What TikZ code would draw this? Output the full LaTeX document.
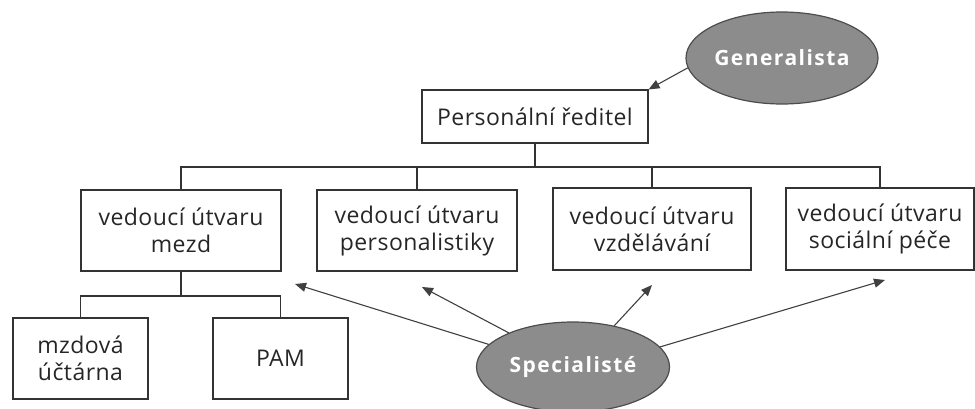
\documentclass[tikz,border=0pt]{standalone}
\usepackage{fontspec}
\setmainfont{Open Sans}
\usetikzlibrary{shapes.geometric,arrows.meta}
\begin{document}
\begin{tikzpicture}[x=1pt,y=-1pt,
  box/.style={draw=black!80,line width=1.1pt,rectangle,inner sep=0pt,align=center,
    font=\fontsize{23}{27}\selectfont\addfontfeatures{LetterSpace=2},text=black!85},
  blob/.style={draw=black!70,line width=1.2pt,ellipse,fill=black!45,inner sep=0pt,
    text=white,font=\bfseries\fontsize{21}{25}\selectfont\addfontfeatures{LetterSpace=7}},
  conn/.style={draw=black!80,line width=1.1pt},
  arr/.style={draw=black!75,line width=1.1pt,-{Triangle[length=11pt,width=9pt]}}]
\useasboundingbox (0,0) rectangle (975,409);
\node[blob,minimum width=192pt,minimum height=92pt] (G) at (782,58) {Generalista};
\node[box,minimum width=226pt,minimum height=53pt] (PR) at (535,116.5) {Personální ředitel};
\node[box,minimum width=200pt,minimum height=81pt] (B1) at (181,230.5) {vedoucí útvaru\\mezd};
\node[box,minimum width=200pt,minimum height=81pt] (B2) at (417,230.5) {vedoucí útvaru\\personalistiky};
\node[box,line width=2.2pt,minimum width=198pt,minimum height=82pt] (B3) at (652,229) {vedoucí útvaru\\vzdělávání};
\node[box,minimum width=188pt,minimum height=82pt] (B4) at (880,229) {vedoucí útvaru\\sociální péče};
\node[box,minimum width=135pt,minimum height=81pt] (C1) at (80.5,358.5) {mzdová\\účtárna};
\node[box,minimum width=135pt,minimum height=81pt] (C2) at (280.5,358.5) {PAM};
\node[blob,minimum width=193pt,minimum height=90pt] (S) at (573,367) {Specialisté};
% tree
\coordinate (b0) at (535,167);
\coordinate (b1) at (181,296);
\draw[conn] (PR.south) -- (b0);
\draw[conn] (B1.north) |- (b0) -| (B4.north);
\draw[conn] (B2.north) |- (b0);
\draw[conn] (B3.north) |- (b0);
\draw[conn] (B1.south) -- (b1);
\draw[conn] (C1.north) |- (b1) -| (C2.north);
% arrows
\coordinate (t1) at (295,284);
\coordinate (t2) at (422,287);
\coordinate (t3) at (652,285);
\coordinate (t4) at (885,280);
\draw[arr] (G.186) -- (PR.north east);
\draw[arr] (S.165) -- (t1);
\draw[arr] (S.152) -- (t2);
\draw[arr] (S.45) -- (t3);
\draw[arr] (S.13) -- (t4);
\end{tikzpicture}
\end{document}
